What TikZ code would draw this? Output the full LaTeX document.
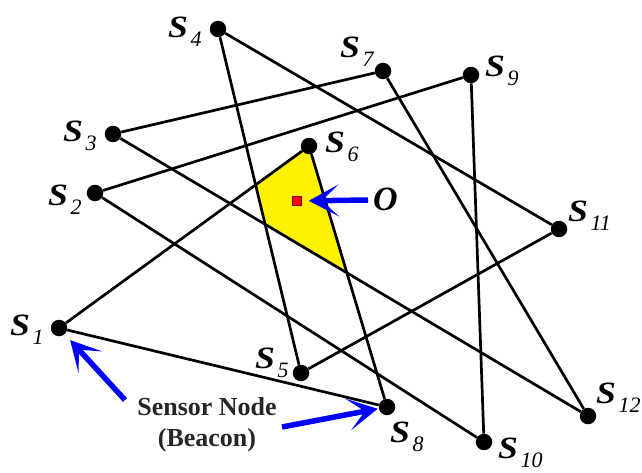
\documentclass[tikz,border=0pt]{standalone}
\usepackage{fontspec}
\setmainfont{Liberation Serif}
\usetikzlibrary{arrows.meta}
\newcommand{\slab}[1]{{\fontsize{31}{31}\selectfont\bfseries\itshape\scalebox{1.15}[1]{S}}\kern2.5pt\raisebox{-9pt}{\fontsize{22}{22}\selectfont\itshape #1}}
\begin{document}
\begin{tikzpicture}[x=1pt,y=-1pt,
  edge/.style={line width=2.7pt},
  dot/.style={circle,fill=black,inner sep=0pt,minimum size=16.5pt},
  lab/.style={anchor=base west,inner sep=0pt},
  barrow/.style={draw=blue, line width=5.5pt, -{Stealth[length=30pt,width=32pt,inset=17pt]}},
  txt/.style={anchor=base,inner sep=0pt,font=\fontsize{26}{26}\selectfont\bfseries,text=black!85}]
\useasboundingbox (0,0) rectangle (642,473);
\fill[white] (0,0) rectangle (642,473);
\coordinate (c1) at (59,328);
\coordinate (c2) at (95,193);
\coordinate (c3) at (113,134);
\coordinate (c4) at (218,29);
\coordinate (c5) at (301,373);
\coordinate (c6) at (309,146);
\coordinate (c7) at (383,71);
\coordinate (c8) at (387,407);
\coordinate (c9) at (471,75);
\coordinate (c10) at (484,442);
\coordinate (c11) at (559,229);
\coordinate (c12) at (588,416);
% yellow region
\fill[yellow, draw=black, line width=1pt] (c6)
  -- (intersection of c1--c6 and c4--c5)
  -- (intersection of c4--c5 and c3--c12)
  -- (intersection of c3--c12 and c6--c8) -- cycle;
% sensor nodes
\foreach \i in {1,...,12} { \node[dot] (s\i) at (c\i) {}; }
% connectors
\draw[edge] (s4) -- (s5);
\draw[edge] (s4) -- (s11);
\draw[edge] (s3) -- (s7);
\draw[edge] (s3) -- (s12);
\draw[edge] (s2) -- (s9);
\draw[edge] (s2) -- (s10);
\draw[edge] (s1) -- (s6);
\draw[edge] (s1) -- (s8);
\draw[edge] (s6) -- (s8);
\draw[edge] (s7) -- (s12);
\draw[edge] (s9) -- (s10);
\draw[edge] (s11) -- (s5);
% labels
\node[lab] (l1) at (10,335) {\slab{1}};
\node[lab] (l2) at (48,205) {\slab{2}};
\node[lab] (l3) at (63,142) {\slab{3}};
\node[lab] (l4) at (168,38) {\slab{4}};
\node[lab] (l5) at (255,368) {\slab{5}};
\node[lab] (l6) at (325,153) {\slab{6}};
\node[lab] (l7) at (340,58) {\slab{7}};
\node[lab] (l8) at (390,442) {\slab{8}};
\node[lab] (l9) at (485,77) {\slab{9}};
\node[lab] (l10) at (498,458) {\slab{10}};
\node[lab] (l11) at (568,222) {\slab{11}};
\node[lab] (l12) at (596,403) {\slab{12}};
% target O
\node[draw=red!55!black, fill=red, minimum size=9pt, inner sep=0pt, line width=0.6pt] (o) at (297,201) {};
\node[lab] (ol) at (373,211) {\fontsize{34}{34}\selectfont\bfseries\itshape O};
\coordinate (ot) at (368,200);
\draw[barrow, shorten >=7pt] (ot) -- (o);
% beacon annotation
\node[txt] (tx1) at (207,415) {Sensor Node};
\node[txt] (tx2) at (207,446) {(Beacon)};
\coordinate (a1) at (125,400);
\coordinate (a2) at (282,427);
\draw[barrow, shorten >=8pt] (a1) -- (s1);
\draw[barrow, shorten >=1pt] (a2) -- (s8);
\end{tikzpicture}
\end{document}
